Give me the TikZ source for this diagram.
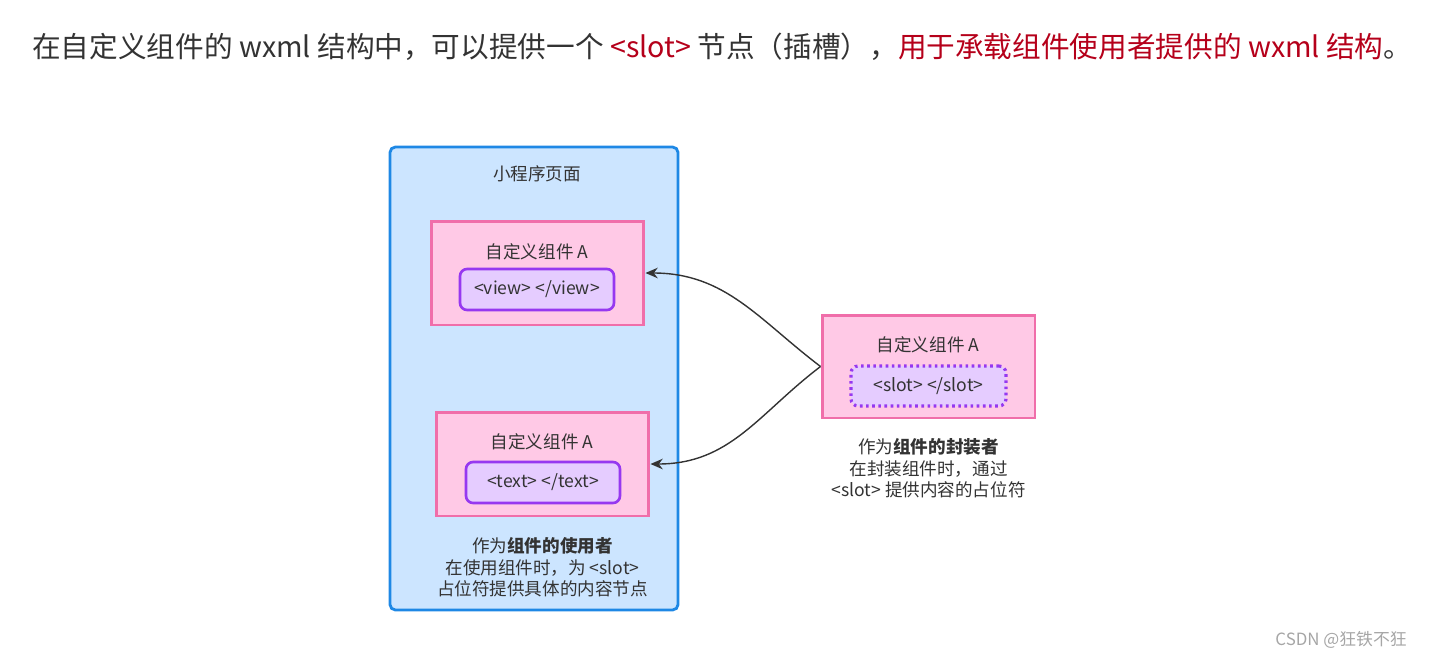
\documentclass[tikz,border=0pt]{standalone}
\usepackage{fontspec}
\setmainfont{Noto Sans CJK SC}
\usepackage{xcolor}
\usetikzlibrary{arrows.meta, positioning}

\definecolor{txtgray}{HTML}{333333}
\definecolor{hlred}{HTML}{B5001A}
\definecolor{pagefill}{HTML}{CCE5FF}
\definecolor{pageline}{HTML}{1E88E5}
\definecolor{compfill}{HTML}{FFC9E6}
\definecolor{compline}{HTML}{F06EAA}
\definecolor{tagfill}{HTML}{E5CCFF}
\definecolor{tagline}{HTML}{9638F0}

\begin{document}
\begin{tikzpicture}[
    x=0.02cm, y=-0.02cm,
    every node/.style={text=txtgray, font=\fontsize{10}{12}\selectfont},
    pagebox/.style={rectangle, draw=pageline, line width=1.6pt, fill=pagefill, rounded corners=3pt, minimum width=5.76cm, minimum height=9.26cm},
    comp/.style={rectangle, draw=compline, line width=1.7pt, fill=compfill, minimum width=4.26cm, minimum height=2.08cm},
    tagbox/.style={rectangle, draw=tagline, line width=1.5pt, fill=tagfill, rounded corners=4pt, minimum width=3.08cm, minimum height=0.82cm},
    slotbox/.style={tagbox, dotted, line width=1.8pt},
    note/.style={align=center, font=\fontsize{10}{12.2}\selectfont},
    arrow/.style={-{Stealth[length=7pt, width=6pt]}, draw=txtgray, line width=0.8pt}
]
\useasboundingbox (0,0) rectangle (1429,660);

% Heading
\node (head) [anchor=west, font=\fontsize{16.3}{19}\selectfont] at (26,47)
  {在自定义组件的 wxml 结构中，可以提供一个 \textcolor{hlred}{<slot>} 节点（插槽），\textcolor{hlred}{用于承载组件使用者提供的 wxml 结构}。};

% Page
\node (page) [pagebox] at (534,378.5) {};
\node (pagetitle) at (537,174) {小程序页面};

% Components used in the page
\node (useA) [comp] at (537.5,273) {};
\node (useAlabel) at (537,252) {自定义组件 A};
\node (viewtag) [tagbox] at (537,289.5) {<view> </view>};

\node (useB) [comp] at (542.5,464) {};
\node (useBlabel) at (542,442) {自定义组件 A};
\node (texttag) [tagbox] at (543,482.5) {<text> </text>};

\node (usenote) [note, below=0.28cm of useB] {作为\textbf{组件的使用者}\\在使用组件时，为 <slot>\\占位符提供具体的内容节点};

% Component definition
\node (defA) [comp, minimum height=2.06cm] at (928.5,366.5) {};
\node (defAlabel) at (928,345) {自定义组件 A};
\node (slottag) [slotbox, minimum width=3.1cm, minimum height=0.8cm] at (928.5,386) {<slot> </slot>};

\node (defnote) [note, below=0.26cm of defA] {作为\textbf{组件的封装者}\\在封装组件时，通过\\<slot> 提供内容的占位符};

% Arrows
\draw[arrow] (defA.west) .. controls +(-62,-47) and +(80,0) .. (useA.east);
\draw[arrow] (defA.west) .. controls +(-62,47) and +(80,0) .. (useB.east);

% Watermark
\node (mark) [anchor=east, text=black!35, font=\fontsize{9.6}{11}\selectfont] at (1413,640) {CSDN @狂铁不狂};

\end{tikzpicture}
\end{document}
